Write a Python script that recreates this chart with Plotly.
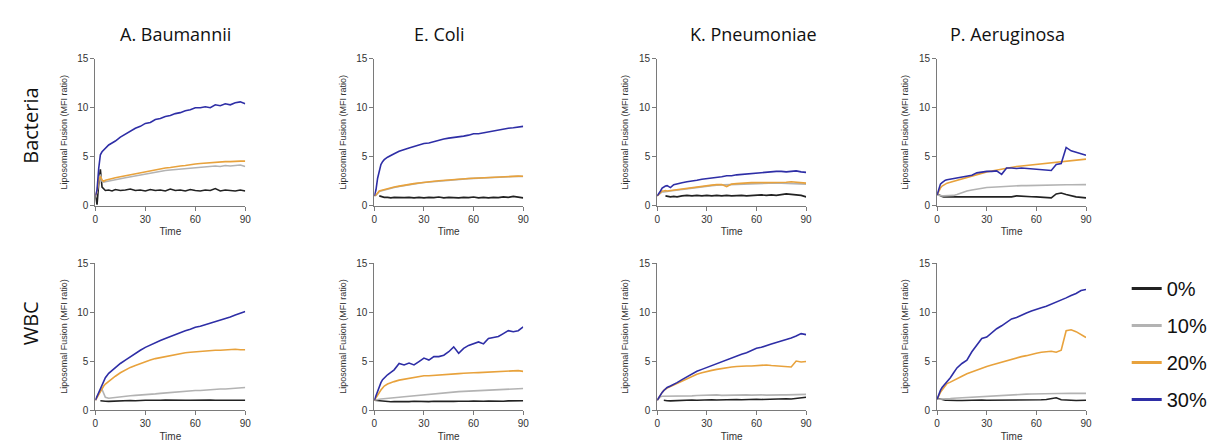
import plotly.graph_objects as go

# ---------------- data ----------------
TIME = [0, 1, 2, 3, 4, 5, 6, 8, 10, 12, 15, 18, 21, 24, 27, 30, 33, 36, 39, 42,
        45, 48, 51, 54, 57, 60, 63, 66, 69, 72, 75, 78, 81, 84, 87, 90]

SPECIES = ["A. Baumannii", "E. Coli", "K. Pneumoniae", "P. Aeruginosa"]
ROWS = ["Bacteria", "WBC"]
SERIES = ["0%", "10%", "20%", "30%"]
X_TICKS = [0, 30, 60, 90]
Y_TICKS = [0, 5, 10, 15]

# A. Baumannii - Bacteria
AB_BAC_0 = [1.0, 0.1, 2.2, 3.7, 1.9, 1.7, 1.55, 1.6, 1.5, 1.65, 1.55, 1.6, 1.7, 1.55, 1.6, 1.5, 1.65, 1.55,
            1.6, 1.5, 1.7, 1.55, 1.6, 1.5, 1.65, 1.55, 1.5, 1.6, 1.55, 1.75, 1.5, 1.6, 1.55, 1.5, 1.6, 1.5]
AB_BAC_10 = [1.0, 1.4, 2.5, 3.2, 2.5, 2.4, 2.45, 2.5, 2.6, 2.65, 2.75, 2.85, 2.95, 3.05, 3.15, 3.25, 3.35, 3.45,
             3.5, 3.6, 3.65, 3.7, 3.75, 3.8, 3.85, 3.9, 3.9, 3.95, 4.0, 4.05, 4.0, 4.1, 4.05, 4.1, 4.15, 4.0]
AB_BAC_20 = [1.0, 1.5, 2.6, 3.0, 2.6, 2.5, 2.6, 2.7, 2.75, 2.85, 2.95, 3.05, 3.2, 3.3, 3.4, 3.5, 3.6, 3.7,
             3.75, 3.85, 3.9, 4.0, 4.05, 4.1, 4.2, 4.25, 4.3, 4.35, 4.4, 4.45, 4.45, 4.5, 4.5, 4.55, 4.55, 4.55]
AB_BAC_30 = [1.0, 1.6, 3.8, 5.2, 5.5, 5.7, 5.9, 6.2, 6.4, 6.6, 7.0, 7.3, 7.6, 7.9, 8.1, 8.4, 8.5, 8.8,
             8.9, 9.1, 9.2, 9.4, 9.5, 9.7, 9.8, 10.0, 10.0, 10.1, 10.0, 10.3, 10.2, 10.4, 10.3, 10.5, 10.6, 10.4]

# E. Coli - Bacteria
EC_BAC_0 = [None, None, None, 1.0, 0.95, 0.9, 0.85, 0.85, 0.8, 0.85, 0.8, 0.82, 0.85, 0.8, 0.85, 0.8, 0.85, 0.82,
            0.88, 0.8, 0.85, 0.82, 0.8, 0.85, 0.82, 0.88, 0.8, 0.85, 0.8, 0.85, 0.82, 0.9, 0.85, 0.95, 0.85, 0.8]
EC_BAC_10 = [1.0, 1.05, 1.25, 1.45, 1.5, 1.55, 1.6, 1.7, 1.78, 1.86, 1.96, 2.06, 2.14, 2.22, 2.3, 2.37, 2.42, 2.48,
             2.53, 2.58, 2.62, 2.66, 2.7, 2.73, 2.76, 2.79, 2.82, 2.85, 2.87, 2.9, 2.92, 2.94, 2.96, 2.98, 3.0, 2.98]
EC_BAC_20 = [1.0, 1.1, 1.3, 1.5, 1.55, 1.6, 1.65, 1.75, 1.82, 1.9, 2.0, 2.1, 2.18, 2.25, 2.32, 2.4, 2.45, 2.5,
             2.55, 2.6, 2.65, 2.68, 2.72, 2.75, 2.78, 2.8, 2.83, 2.86, 2.88, 2.9, 2.92, 2.95, 2.97, 3.0, 3.02, 3.0]
EC_BAC_30 = [1.0, 1.6, 2.8, 3.7, 4.2, 4.5, 4.7, 4.95, 5.15, 5.3, 5.55, 5.75, 5.9, 6.05, 6.2, 6.35, 6.4, 6.55,
             6.65, 6.8, 6.9, 6.95, 7.0, 7.1, 7.2, 7.35, 7.35, 7.45, 7.55, 7.65, 7.75, 7.8, 7.9, 7.95, 8.0, 8.1]

# K. Pneumoniae - Bacteria
KP_BAC_0 = [None, None, None, None, None, 1.0, 0.95, 0.9, 0.95, 0.9, 1.0, 1.05, 1.0, 1.05, 1.0, 1.05, 1.0, 1.05,
            1.0, 1.05, 1.0, 1.05, 1.05, 1.0, 1.05, 1.05, 1.1, 1.05, 1.1, 1.05, 1.1, 1.2, 1.15, 1.1, 1.05, 0.9]
KP_BAC_10 = [1.0, 1.15, 1.35, 1.4, 1.4, 1.45, 1.45, 1.5, 1.55, 1.6, 1.65, 1.75, 1.8, 1.85, 1.9, 2.0, 2.05, 2.1,
             2.12, 2.15, 2.18, 2.2, 2.25, 2.27, 2.28, 2.3, 2.3, 2.32, 2.3, 2.32, 2.3, 2.28, 2.3, 2.25, 2.2, 2.2]
KP_BAC_20 = [1.0, 1.2, 1.4, 1.5, 1.5, 1.55, 1.5, 1.55, 1.6, 1.65, 1.7, 1.8, 1.85, 1.9, 1.95, 2.05, 2.1, 2.15,
             2.15, 1.95, 2.2, 2.25, 2.3, 2.3, 2.35, 2.35, 2.35, 2.35, 2.4, 2.35, 2.4, 2.4, 2.45, 2.4, 2.35, 2.3]
KP_BAC_30 = [1.0, 1.2, 1.5, 1.8, 1.95, 2.0, 2.05, 1.85, 2.15, 2.25, 2.35, 2.45, 2.5, 2.6, 2.7, 2.75, 2.85, 2.9,
             2.95, 3.05, 3.05, 3.15, 3.2, 3.25, 3.3, 3.35, 3.35, 3.45, 3.45, 3.5, 3.5, 3.45, 3.5, 3.55, 3.45, 3.4]

# P. Aeruginosa - Bacteria
PA_BAC_0 = [1.2, 1.1, 1.0, 0.95, 0.9, 0.9, 0.85, 0.85, 0.85, 0.9, 0.85, 0.9, 0.85, 0.9, 0.88, 0.9, 0.85, 0.9,
            0.88, 0.85, 0.9, 1.0, 0.95, 0.9, 0.92, 0.9, 0.88, 0.85, 0.8, 1.2, 1.3, 1.15, 1.0, 0.9, 0.85, 0.8]
PA_BAC_10 = [1.1, 1.05, 1.0, 1.0, 1.0, 1.0, 1.0, 1.05, 1.05, 1.15, 1.35, 1.5, 1.6, 1.7, 1.75, 1.85, 1.88, 1.92,
             1.95, 1.98, 2.0, 2.02, 2.05, 2.05, 2.07, 2.08, 2.1, 2.1, 2.12, 2.12, 2.13, 2.14, 2.14, 2.15, 2.15, 2.15]
PA_BAC_20 = [1.1, 1.5, 1.8, 2.0, 2.1, 2.2, 2.3, 2.4, 2.5, 2.6, 2.75, 2.9, 3.0, 3.15, 3.3, 3.45, 3.55, 3.65,
             3.75, 3.85, 3.95, 4.0, 4.05, 4.1, 4.15, 4.25, 4.3, 4.35, 4.4, 4.45, 4.5, 4.55, 4.6, 4.65, 4.7, 4.75]
PA_BAC_30 = [1.1, 1.6, 2.2, 2.35, 2.5, 2.6, 2.65, 2.7, 2.8, 2.85, 2.95, 3.0, 3.1, 3.35, 3.45, 3.5, 3.5, 3.55,
             3.2, 3.85, 3.85, 3.8, 3.85, 3.8, 3.75, 3.75, 3.7, 3.65, 3.6, 4.2, 4.3, 5.95, 5.6, 5.45, 5.3, 5.15]

# A. Baumannii - WBC
AB_WBC_0 = [None, None, None, 0.95, 0.92, 0.9, 0.9, 0.88, 0.9, 0.92, 0.95, 0.95, 0.98, 0.95, 1.0, 1.0, 1.0, 0.98,
            1.0, 1.02, 1.0, 1.0, 1.02, 1.0, 1.0, 1.02, 1.0, 1.0, 1.02, 1.0, 1.0, 1.02, 1.0, 1.0, 1.0, 1.0]
AB_WBC_10 = [1.0, 1.3, 1.7, 2.0, 2.1, 1.6, 1.3, 1.2, 1.25, 1.3, 1.35, 1.4, 1.45, 1.5, 1.52, 1.55, 1.6, 1.65,
             1.7, 1.75, 1.8, 1.85, 1.9, 1.95, 1.95, 2.0, 2.0, 2.05, 2.1, 2.1, 2.15, 2.15, 2.2, 2.2, 2.25, 2.3]
AB_WBC_20 = [1.0, 1.3, 1.65, 1.95, 2.2, 2.45, 2.65, 2.95, 3.2, 3.45, 3.8, 4.1, 4.35, 4.55, 4.75, 4.95, 5.1, 5.25,
             5.35, 5.5, 5.6, 5.7, 5.75, 5.85, 5.9, 5.95, 6.0, 6.05, 6.05, 6.1, 6.1, 6.15, 6.15, 6.2, 6.15, 6.15]
AB_WBC_30 = [1.0, 1.4, 1.8, 2.1, 2.5, 2.9, 3.3, 3.75, 4.05, 4.35, 4.75, 5.1, 5.45, 5.75, 6.1, 6.4, 6.65, 6.85,
             7.1, 7.3, 7.5, 7.75, 7.95, 8.1, 8.25, 8.45, 8.55, 8.7, 8.85, 9.0, 9.15, 9.3, 9.5, 9.7, 9.9, 10.05]

# E. Coli - WBC
EC_WBC_0 = [1.0, 0.98, 0.95, 0.92, 0.9, 0.88, 0.87, 0.86, 0.85, 0.87, 0.85, 0.88, 0.86, 0.9, 0.87, 0.88, 0.86, 0.9,
            0.88, 0.86, 0.9, 0.88, 0.9, 0.87, 0.9, 0.92, 0.88, 0.9, 0.92, 0.9, 0.92, 0.9, 0.93, 0.95, 0.92, 0.95]
EC_WBC_10 = [1.0, 1.05, 1.08, 1.1, 1.12, 1.13, 1.15, 1.18, 1.2, 1.22, 1.3, 1.35, 1.4, 1.45, 1.52, 1.58, 1.62, 1.66,
             1.7, 1.75, 1.8, 1.84, 1.88, 1.9, 1.93, 1.96, 2.0, 2.03, 2.06, 2.08, 2.1, 2.13, 2.15, 2.18, 2.2, 2.2]
EC_WBC_20 = [1.0, 1.3, 1.55, 1.8, 2.05, 2.25, 2.45, 2.65, 2.8, 2.9, 3.05, 3.15, 3.25, 3.35, 3.4, 3.5, 3.5, 3.55,
             3.6, 3.65, 3.65, 3.7, 3.72, 3.75, 3.8, 3.8, 3.82, 3.85, 3.88, 3.9, 3.9, 3.95, 3.98, 4.0, 4.02, 3.95]
EC_WBC_30 = [1.0, 1.5, 2.0, 2.5, 2.8, 3.1, 3.3, 3.6, 3.85, 4.1, 4.75, 4.6, 4.8, 4.6, 4.95, 5.3, 5.1, 5.45,
             5.45, 5.6, 5.95, 6.45, 5.8, 6.3, 6.6, 6.8, 6.95, 6.75, 7.3, 7.4, 7.5, 7.8, 8.1, 8.0, 8.1, 8.5]

# K. Pneumoniae - WBC
KP_WBC_0 = [None, None, None, None, 1.0, 0.95, 0.95, 0.93, 0.95, 0.97, 1.0, 1.0, 1.02, 1.0, 1.03, 1.02, 1.05, 1.02,
            1.05, 1.03, 1.05, 1.07, 1.05, 1.08, 1.06, 1.1, 1.08, 1.1, 1.12, 1.1, 1.12, 1.15, 1.12, 1.18, 1.22, 1.3]
KP_WBC_10 = [1.0, 1.2, 1.35, 1.4, 1.4, 1.4, 1.38, 1.4, 1.42, 1.4, 1.42, 1.45, 1.45, 1.48, 1.5, 1.5, 1.52, 1.55,
             1.5, 1.52, 1.55, 1.52, 1.55, 1.55, 1.52, 1.55, 1.55, 1.52, 1.55, 1.58, 1.55, 1.55, 1.58, 1.6, 1.6, 1.6]
KP_WBC_20 = [1.0, 1.3, 1.55, 1.8, 2.0, 2.15, 2.25, 2.4, 2.55, 2.7, 2.95, 3.2, 3.45, 3.65, 3.8, 3.95, 4.05, 4.15,
             4.25, 4.3, 4.4, 4.45, 4.5, 4.5, 4.5, 4.55, 4.55, 4.6, 4.55, 4.5, 4.5, 4.45, 4.4, 5.0, 4.9, 4.95]
KP_WBC_30 = [1.0, 1.3, 1.55, 1.8, 2.0, 2.15, 2.3, 2.45, 2.6, 2.8, 3.1, 3.4, 3.7, 3.95, 4.15, 4.35, 4.55, 4.75,
             4.95, 5.15, 5.35, 5.5, 5.7, 5.85, 6.1, 6.3, 6.4, 6.6, 6.75, 6.9, 7.05, 7.15, 7.35, 7.55, 7.8, 7.7]

# P. Aeruginosa - WBC
PA_WBC_0 = [1.2, 1.15, 1.1, 1.05, 1.02, 1.0, 1.0, 0.97, 0.95, 0.97, 0.98, 1.0, 0.98, 1.0, 1.02, 1.0, 1.0, 1.02,
            1.0, 1.0, 1.02, 1.0, 1.02, 1.0, 1.03, 1.05, 1.05, 1.08, 1.15, 1.25, 1.05, 1.0, 1.0, 0.98, 1.0, 1.0]
PA_WBC_10 = [1.1, 1.1, 1.1, 1.1, 1.1, 1.12, 1.14, 1.16, 1.2, 1.22, 1.28, 1.32, 1.36, 1.4, 1.43, 1.46, 1.48, 1.5,
             1.52, 1.55, 1.57, 1.58, 1.6, 1.62, 1.63, 1.65, 1.66, 1.67, 1.68, 1.7, 1.7, 1.72, 1.72, 1.7, 1.72, 1.7]
PA_WBC_20 = [1.1, 1.5, 1.8, 2.05, 2.3, 2.5, 2.7, 2.85, 3.0, 3.15, 3.45, 3.7, 3.9, 4.1, 4.3, 4.45, 4.6, 4.75,
             4.9, 5.05, 5.2, 5.35, 5.45, 5.55, 5.7, 5.8, 5.9, 5.95, 6.0, 5.9, 6.1, 8.1, 8.2, 8.0, 7.7, 7.4]
PA_WBC_30 = [1.1, 1.6, 2.0, 2.3, 2.5, 2.65, 2.8, 3.3, 3.8, 4.3, 4.75, 5.1, 5.95, 6.65, 7.3, 7.45, 7.9, 8.3,
             8.6, 8.95, 9.3, 9.45, 9.7, 9.9, 10.1, 10.3, 10.45, 10.6, 10.8, 11.0, 11.2, 11.45, 11.7, 11.9, 12.2, 12.3]

PANELS = [
    [[AB_BAC_0, AB_BAC_10, AB_BAC_20, AB_BAC_30],
     [EC_BAC_0, EC_BAC_10, EC_BAC_20, EC_BAC_30],
     [KP_BAC_0, KP_BAC_10, KP_BAC_20, KP_BAC_30],
     [PA_BAC_0, PA_BAC_10, PA_BAC_20, PA_BAC_30]],
    [[AB_WBC_0, AB_WBC_10, AB_WBC_20, AB_WBC_30],
     [EC_WBC_0, EC_WBC_10, EC_WBC_20, EC_WBC_30],
     [KP_WBC_0, KP_WBC_10, KP_WBC_20, KP_WBC_30],
     [PA_WBC_0, PA_WBC_10, PA_WBC_20, PA_WBC_30]],
]

# ---------------- style ----------------
W, H = 1219, 445
COLORS = ["#222222", "#b3b3b3", "#e8a23c", "#2e2ea6"]
COL_PX = [(85, 236), (366, 516), (651, 801), (933, 1083)]
ROW_PX = [(46, 197), (256, 407)]
TITLE_X_PX = [166, 432, 748, 1004]
ROW_LABEL_Y_PX = [115, 318]
AX_COLOR = "#7a7a7a"
TICK_FONT = dict(family="Liberation Sans, Arial, sans-serif", size=10, color="#333333")

fig = go.Figure()
layout = {}
n = 0
for r in range(2):
    for c in range(4):
        n += 1
        xa = "x" if n == 1 else f"x{n}"
        ya = "y" if n == 1 else f"y{n}"
        for s in range(4):
            fig.add_trace(go.Scatter(
                x=TIME, y=PANELS[r][c][s], mode="lines",
                line=dict(color=COLORS[s], width=1.6),
                xaxis=xa, yaxis=ya, showlegend=False, connectgaps=False,
                hoverinfo="skip"))
        x0, x1 = COL_PX[c]
        y0, y1 = ROW_PX[r]
        layout["xaxis" if n == 1 else f"xaxis{n}"] = dict(
            domain=[x0 / W, x1 / W], anchor=ya, range=[0, 90],
            tickvals=X_TICKS, ticks="outside", ticklen=4, tickcolor=AX_COLOR,
            showline=True, linecolor=AX_COLOR, linewidth=1, showgrid=False, zeroline=False,
            tickfont=TICK_FONT,
            title=dict(text="Time", font=dict(family="Liberation Sans, Arial", size=10, color="#333333"), standoff=4),
        )
        layout["yaxis" if n == 1 else f"yaxis{n}"] = dict(
            domain=[1 - y1 / H, 1 - y0 / H], anchor=xa, range=[0, 15],
            tickvals=Y_TICKS, ticks="outside", ticklen=4, tickcolor=AX_COLOR,
            showline=True, linecolor=AX_COLOR, linewidth=1, showgrid=False, zeroline=False,
            tickfont=TICK_FONT,
            title=dict(text="Liposomal Fusion (MFI ratio)",
                       font=dict(family="Liberation Sans, Arial", size=9, color="#333333"), standoff=8),
        )

# legend entries
for s in range(4):
    fig.add_trace(go.Scatter(x=[None], y=[None], mode="lines", name=SERIES[s],
                             line=dict(color=COLORS[s], width=3), legendgroup=SERIES[s],
                             showlegend=True, hoverinfo="skip"))

annotations = []
for c in range(4):
    annotations.append(dict(text=SPECIES[c], x=TITLE_X_PX[c] / W, y=1 - 21 / H, xref="paper", yref="paper",
                            xanchor="center", yanchor="middle", showarrow=False,
                            font=dict(family="Open Sans", size=18, color="#111111")))
for r in range(2):
    annotations.append(dict(text=ROWS[r], x=20 / W, y=1 - ROW_LABEL_Y_PX[r] / H, xref="paper", yref="paper",
                            xanchor="center", yanchor="middle", showarrow=False, textangle=-90,
                            font=dict(family="Open Sans", size=20, color="#111111")))

fig.update_layout(
    width=W, height=H, margin=dict(l=0, r=0, t=0, b=0),
    paper_bgcolor="white", plot_bgcolor="white",
    annotations=annotations,
    legend=dict(x=1124 / W, y=1 - 262 / H, xanchor="left", yanchor="top",
                font=dict(family="Liberation Sans, Arial", size=20, color="#111111"),
                tracegroupgap=8, bgcolor="rgba(0,0,0,0)"),
    **layout,
)

fig.write_html("out.html")
